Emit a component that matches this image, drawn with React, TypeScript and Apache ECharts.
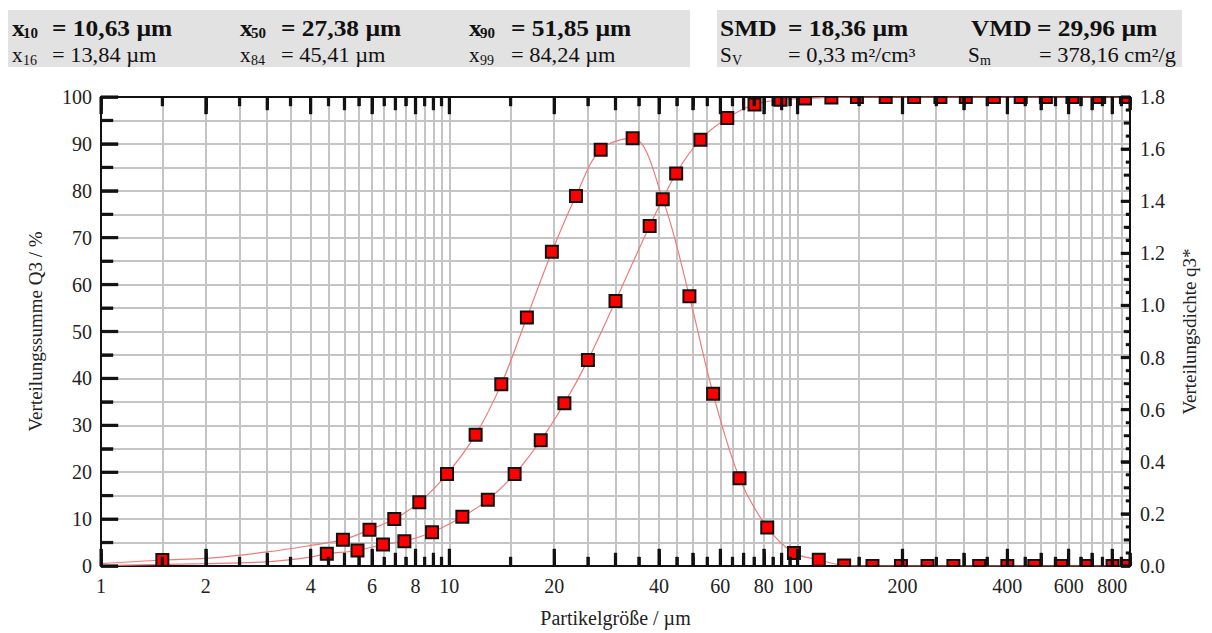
import { useEffect, useRef } from 'react';
import * as echarts from 'echarts';

// ---------- data ----------
const X_MIN = 1;
const X_MAX = 900;
const xLabelValues = [1, 2, 4, 6, 8, 10, 20, 40, 60, 80, 100, 200, 400, 600, 800];
const leftTickValues = [0, 5, 10, 15, 20, 25, 30, 35, 40, 45, 50, 55, 60, 65, 70, 75, 80, 85, 90, 95, 100];
const rightTickValues = [0, 0.05, 0.1, 0.15, 0.2, 0.25, 0.3, 0.35, 0.4, 0.45, 0.5, 0.55, 0.6, 0.65, 0.7, 0.75, 0.8, 0.85, 0.9, 0.95, 1.0, 1.05, 1.1, 1.15, 1.2, 1.25, 1.3, 1.35, 1.4, 1.45, 1.5, 1.55, 1.6, 1.65, 1.7, 1.75, 1.8];

// density q3* markers (right axis)
const densityX = [1.5, 4.95, 5.9, 6.95, 8.2, 9.85, 11.9, 14.1, 16.7, 19.7, 23.1, 27.2, 33.6, 41.0, 48.9, 57.2, 68.1, 81.8, 97.6, 115, 136, 164, 198, 236, 280, 332, 400, 478, 570, 677, 802, 885];
const densityY = [0.023, 0.101, 0.139, 0.18, 0.245, 0.353, 0.504, 0.698, 0.954, 1.206, 1.42, 1.598, 1.642, 1.408, 1.035, 0.661, 0.337, 0.148, 0.05, 0.024, 0.002, 0, 0, 0, 0, 0, 0, 0, 0, 0, 0, 0];
// extra points of the density curve (no marker)
const densityCurveX = [1, 2, 3, 4, 900];
const densityCurveY = [0.009, 0.029, 0.054, 0.079, 0];

// cumulative Q3 markers (left axis, %)
const cumX = [4.45, 5.45, 6.45, 7.43, 8.92, 10.9, 12.9, 15.4, 18.3, 21.4, 25.0, 30.0, 37.6, 44.8, 52.6, 62.8, 75.2, 89.3, 105, 125, 148, 179, 216, 257, 304, 366, 437, 516, 615, 734, 876];
const cumY = [2.6, 3.3, 4.6, 5.3, 7.2, 10.5, 14.1, 19.6, 26.8, 34.7, 43.9, 56.5, 72.5, 83.7, 90.9, 95.5, 98.4, 99.4, 99.7, 99.9, 100, 100, 100, 100, 100, 100, 100, 100, 100, 100, 100];
// extra points of the cumulative curve (no marker)
const cumCurveX = [1, 2, 3, 4, 900];
const cumCurveY = [0.1, 0.5, 0.9, 1.9, 100];

// header values
const headerRow1 = [
  { sym: 'x', sub: '10', val: '= 10,63 µm' },
  { sym: 'x', sub: '50', val: '= 27,38 µm' },
  { sym: 'x', sub: '90', val: '= 51,85 µm' },
];
const headerRow2 = [
  { sym: 'x', sub: '16', val: '= 13,84 µm' },
  { sym: 'x', sub: '84', val: '= 45,41 µm' },
  { sym: 'x', sub: '99', val: '= 84,24 µm' },
];
const headerRight1 = [
  { sym: 'SMD', sub: '', val: '= 18,36 µm' },
  { sym: 'VMD', sub: '', val: '= 29,96 µm' },
];
const headerRight2 = [
  { sym: 'S', sub: 'V', val: '= 0,33 m²/cm³' },
  { sym: 'S', sub: 'm', val: '= 378,16 cm²/g' },
];

// ---------- x tick set (every half step of each decade) ----------
const decades = [1, 10, 100];
const halfSteps: number[] = [];
for (let s = 1; s < 10; s += 0.5) halfSteps.push(s);
const allTicks: number[] = [];
const intTicks: number[] = [];
const allTickLen: number[] = [];
decades.forEach((d) => {
  halfSteps.forEach((s) => {
    const v = +(s * d).toPrecision(6);
    if (v <= X_MAX) {
      allTicks.push(v);
      if (Number.isInteger(s)) intTicks.push(v);
      const labelled = xLabelValues.indexOf(v) >= 0;
      allTickLen.push(labelled ? 17 : Number.isInteger(s) ? 13 : 9);
    }
  });
});
const leftTickLen = leftTickValues.map((v) => (v % 10 === 0 ? 17 : 12));
const rightTickLen = rightTickValues.map((v) => {
  const k = Math.round(v * 100);
  return k % 20 === 0 ? 9 : k % 10 === 0 ? 6 : 4;
});

const FONT = 'Liberation Serif';
const INK = '#111111';
const GRID = '#c4c4c4';
const TW = 2.5; // tick thickness

function pairs(xs: number[], ys: number[]) {
  return xs.map((x, i) => [x, ys[i]]);
}
function curve(xs: number[], ys: number[], ex: number[], ey: number[]) {
  return pairs(xs, ys).concat(pairs(ex, ey)).sort((a, b) => a[0] - b[0]);
}

function markerSeries(xs: number[], ys: number[], yAxisIndex: number) {
  return {
    type: 'custom',
    xAxisIndex: 0,
    yAxisIndex,
    z: 5,
    encode: { x: 0, y: 1 },
    data: pairs(xs, ys),
    renderItem: (params: any, api: any) => {
      try {
        const p = api.coord([api.value(0), api.value(1)]);
        const cs = params.coordSys;
        const shape = echarts.graphic.clipRectByRect(
          { x: p[0] - 6, y: p[1] - 6, width: 12, height: 12 },
          { x: cs.x, y: cs.y, width: cs.width, height: cs.height }
        );
        if (!shape) return null;
        return { type: 'rect', shape, style: { fill: '#ff0000', stroke: INK, lineWidth: 2 } };
      } catch (e) {
        return null;
      }
    },
  };
}

// tick series drawn through the axes' scales
function tickSeries(side: string, values: number[], lens: number[]) {
  const yAxisIndex = side === 'right' ? 1 : 0;
  const data = values.map((v) => {
    if (side === 'bottom') return [v, 0];
    if (side === 'top') return [v, 100];
    if (side === 'left') return [X_MIN, v];
    return [X_MAX, v];
  });
  return {
    type: 'custom',
    xAxisIndex: 0,
    yAxisIndex,
    z: 6,
    encode: { x: 0, y: 1 },
    data,
    renderItem: (params: any, api: any) => {
      try {
        const p = api.coord([api.value(0), api.value(1)]);
        const len = lens[params.dataIndex] || 8;
        let shape;
        if (side === 'bottom') shape = { x: p[0] - TW / 2, y: p[1] - len, width: TW, height: len };
        else if (side === 'top') shape = { x: p[0] - TW / 2, y: p[1], width: TW, height: len };
        else if (side === 'left') shape = { x: p[0], y: p[1] - TW / 2, width: len, height: TW };
        else shape = { x: p[0] - len, y: p[1] - TW / 2, width: len, height: TW };
        return { type: 'rect', shape, style: { fill: INK, stroke: INK, lineWidth: 0.5 } };
      } catch (e) {
        return null;
      }
    },
  };
}

// extra axes carrying native ticks (no grid lines)
function xTickAxis(position: 'top' | 'bottom', ticks: number[], len: number) {
  return {
    type: 'log',
    logBase: 10,
    min: X_MIN,
    max: X_MAX,
    position,
    z: 10,
    axisLine: { show: false, onZero: false },
    axisTick: { show: true, inside: true, length: len, customValues: ticks, lineStyle: { color: INK, width: TW } },
    minorTick: { show: false },
    axisLabel: { show: false },
    splitLine: { show: false },
  };
}

function headerTexts(rows: any[], xs: number[], eqXs: number[], y: number, bold: boolean) {
  const out: any[] = [];
  const size = bold ? 24 : 20;
  const subSize = bold ? 15 : 14;
  const weight = bold ? 'bold' : 'normal';
  rows.forEach((r, i) => {
    out.push({
      type: 'text', x: xs[i], y, z: 100, scaleX: 1.06,
      style: { text: r.sym, fontFamily: FONT, fontSize: size, fontWeight: weight, fill: INK, textVerticalAlign: 'middle' },
    });
    if (r.sub) {
      const symW = r.sym === 'x' ? 11 : 12;
      out.push({
        type: 'text', x: xs[i] + symW, y: y + 5, z: 100,
        style: { text: r.sub, fontFamily: FONT, fontSize: subSize, fontWeight: weight, fill: INK, textVerticalAlign: 'middle' },
      });
    }
    out.push({
      type: 'text', x: eqXs[i], y, z: 100, scaleX: bold ? 1.06 : 1.12,
      style: { text: r.val, fontFamily: FONT, fontSize: size, fontWeight: weight, fill: INK, textVerticalAlign: 'middle' },
    });
  });
  return out;
}

export default function App() {
  const ref = useRef<HTMLDivElement>(null);
  useEffect(() => {
    if (!ref.current) return;
    const chart = echarts.init(ref.current, null, { renderer: 'svg' });
    const option: any = {
      animation: false,
      backgroundColor: '#ffffff',
      textStyle: { fontFamily: FONT },
      grid: { left: 101, right: 82, top: 97, bottom: 64 },
      xAxis: [
        {
          type: 'log',
          logBase: 10,
          min: X_MIN,
          max: X_MAX,
          position: 'bottom',
          z: 1,
          axisLine: { show: true, onZero: false, lineStyle: { color: INK, width: 2 } },
          axisTick: { show: false, customValues: allTicks },
          minorTick: { show: false },
          axisLabel: {
            show: true,
            customValues: xLabelValues,
            formatter: (v: number) => String(Math.round(v * 100) / 100),
            fontFamily: FONT,
            fontSize: 20,
            color: '#222',
            margin: 10,
          },
          splitLine: { show: true, lineStyle: { color: GRID, width: 2 } },
          name: 'Partikelgröße / µm',
          nameLocation: 'middle',
          nameGap: 42,
          nameTextStyle: { fontFamily: FONT, fontSize: 20, color: '#222' },
        },
        {
          type: 'log',
          logBase: 10,
          min: X_MIN,
          max: X_MAX,
          position: 'top',
          z: 1,
          axisLine: { show: true, onZero: false, lineStyle: { color: INK, width: 2 } },
          axisTick: { show: false },
          minorTick: { show: false },
          axisLabel: { show: false },
          splitLine: { show: false },
        },
        xTickAxis('bottom', allTicks, 9),
        xTickAxis('bottom', intTicks, 13),
        xTickAxis('bottom', xLabelValues, 17),
        xTickAxis('top', allTicks, 9),
        xTickAxis('top', intTicks, 13),
        xTickAxis('top', xLabelValues, 17),
      ],
      yAxis: [
        {
          type: 'value',
          min: 0,
          max: 100,
          interval: 10,
          position: 'left',
          z: 1,
          axisLine: { show: true, lineStyle: { color: INK, width: 2 } },
          axisTick: { show: false },
          minorTick: { show: false, splitNumber: 2 },
          splitLine: { show: true, lineStyle: { color: GRID, width: 2 } },
          minorSplitLine: { show: true, lineStyle: { color: GRID, width: 2 } },
          axisLabel: { fontFamily: FONT, fontSize: 20, color: '#222', margin: 9 },
          name: 'Verteilungssumme Q3 / %',
          nameLocation: 'middle',
          nameGap: 56,
          nameRotate: 90,
          nameTextStyle: { fontFamily: FONT, fontSize: 19, color: '#222' },
        },
        {
          type: 'value',
          min: 0,
          max: 1.8,
          interval: 0.2,
          position: 'right',
          z: 10,
          axisLine: { show: true, lineStyle: { color: INK, width: 2 } },
          axisTick: { show: true, inside: true, length: 9, lineStyle: { color: INK, width: TW } },
          minorTick: { show: true, splitNumber: 4, length: 4, lineStyle: { color: INK, width: 2 } },
          splitLine: { show: false },
          axisLabel: { fontFamily: FONT, fontSize: 20, color: '#222', margin: 10, formatter: (v: number) => v.toFixed(1) },
          name: 'Verteilungsdichte q3*',
          nameLocation: 'middle',
          nameGap: 50,
          nameRotate: 90,
          nameTextStyle: { fontFamily: FONT, fontSize: 19, color: '#222' },
        },
        {
          type: 'value',
          min: 0,
          max: 100,
          interval: 10,
          position: 'left',
          z: 10,
          axisLine: { show: false },
          axisTick: { show: true, inside: true, length: 17, lineStyle: { color: INK, width: TW } },
          minorTick: { show: true, splitNumber: 2, length: 12, lineStyle: { color: INK, width: TW } },
          splitLine: { show: false },
          axisLabel: { show: false },
        },
      ],
      series: [
        {
          type: 'line',
          xAxisIndex: 0,
          yAxisIndex: 0,
          data: curve(cumX, cumY, cumCurveX, cumCurveY),
          smooth: 0.35,
          showSymbol: false,
          z: 3,
          lineStyle: { color: '#f07a7a', width: 1.2 },
        },
        {
          type: 'line',
          xAxisIndex: 0,
          yAxisIndex: 1,
          data: curve(densityX, densityY, densityCurveX, densityCurveY),
          smooth: 0.35,
          showSymbol: false,
          z: 3,
          lineStyle: { color: '#f07a7a', width: 1.2 },
        },
        tickSeries('left', leftTickValues, leftTickLen),
        tickSeries('right', rightTickValues, rightTickLen),
        tickSeries('bottom', allTicks, allTickLen),
        tickSeries('top', allTicks, allTickLen),
        markerSeries(cumX, cumY, 0),
        markerSeries(densityX, densityY, 1),
      ],
      graphic: [
        { type: 'rect', z: 50, shape: { x: 8, y: 10, width: 682, height: 57 }, style: { fill: '#e2e2e2' } },
        { type: 'rect', z: 50, shape: { x: 717, y: 10, width: 465, height: 57 }, style: { fill: '#e2e2e2' } },
        ...headerTexts(headerRow1, [12, 240, 469], [52, 281, 511], 28, true),
        ...headerTexts(headerRow2, [12, 240, 469], [52, 281, 511], 55, false),
        ...headerTexts(headerRight1, [720, 971], [788, 1037], 28, true),
        ...headerTexts(headerRight2, [720, 968], [788, 1039], 55, false),
      ],
    };
    chart.setOption(option);
    return () => chart.dispose();
  }, []);
  return (
    <div
      ref={ref}
      style={{ position: 'absolute', left: 0, top: 0, width: 1212, height: 633, background: '#fff' }}
    />
  );
}
